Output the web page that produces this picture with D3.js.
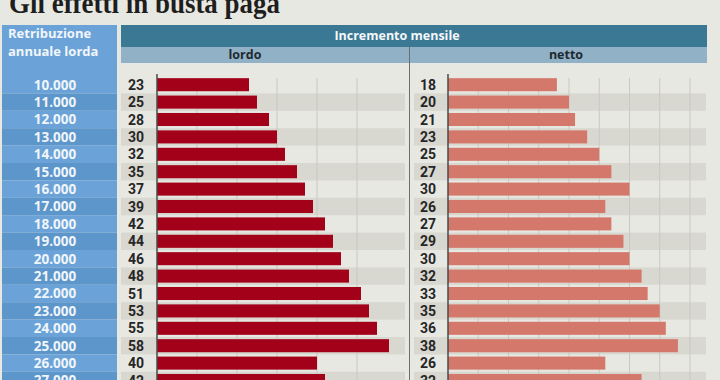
<!DOCTYPE html>
<html>
<head>
<meta charset="utf-8">
<script src="https://cdn.jsdelivr.net/npm/d3@7"></script>
<style>
  html, body { margin: 0; padding: 0; background: #e8e8e3; }
  svg { display: block; }
</style>
</head>
<body>
<svg id="chart" width="720" height="380"></svg>
<script>
// data
const redditi = ['10.000', '11.000', '12.000', '13.000', '14.000', '15.000', '16.000', '17.000', '18.000',
  '19.000', '20.000', '21.000', '22.000', '23.000', '24.000', '25.000', '26.000', '27.000'];
const lordo = [23, 25, 28, 30, 32, 35, 37, 39, 42, 44, 46, 48, 51, 53, 55, 58, 40, 42];
const netto = [18, 20, 21, 23, 25, 27, 30, 26, 27, 29, 30, 32, 33, 35, 36, 38, 26, 32];
const lordoTicks = [10, 20, 30, 40, 50];
const nettoTicks = [5, 10, 15, 20, 25, 30, 35, 40];

const rows = redditi.map((r, i) => ({ r, i, lordo: lordo[i], netto: netto[i] }));

const svg = d3.select('#chart');
const sans = "'Open Sans', 'Noto Sans', sans-serif";
const nums = "Roboto, 'Liberation Sans', sans-serif";

const y = d3.scaleBand().domain(redditi).range([76, 76 + 18 * 17.4]).paddingInner(0.25).paddingOuter(0.125);
const step = y.step();
const rowTop = d => y(d.r) - step * 0.125;
const xL = d3.scaleLinear().domain([0, 62]).range([157, 405]);
const xN = d3.scaleLinear().domain([0, 40]).range([448, 690]);

// title (clipped at the top like the original)
svg.append('text')
  .attr('x', 9).attr('y', 13)
  .attr('font-family', "'Liberation Serif', 'DejaVu Serif', serif")
  .attr('font-weight', 'bold').attr('font-size', 29)
  .attr('fill', '#1e1e1e')
  .attr('textLength', 271).attr('lengthAdjust', 'spacingAndGlyphs')
  .text('Gli effetti in busta paga');

// left column header + rows
svg.append('rect').attr('x', 2).attr('y', 25).attr('width', 115).attr('height', 51).attr('fill', '#6ba3d8');
svg.selectAll('.lab-bg').data(rows).enter().append('rect')
  .attr('x', 2).attr('y', rowTop).attr('width', 115).attr('height', step)
  .attr('fill', d => d.i % 2 ? '#5d96cb' : '#6ba3d8');
svg.append('text').attr('x', 8).attr('y', 38)
  .attr('font-family', sans).attr('font-weight', 'bold').attr('font-size', 13).attr('fill', '#f2f6fb')
  .text('Retribuzione');
svg.append('text').attr('x', 8).attr('y', 56)
  .attr('font-family', sans).attr('font-weight', 'bold').attr('font-size', 13).attr('fill', '#f2f6fb')
  .text('annuale lorda');
svg.selectAll('.lab').data(rows).enter().append('text')
  .attr('x', 55).attr('y', d => y(d.r) + y.bandwidth() / 2)
  .attr('dy', '0.36em').attr('text-anchor', 'middle')
  .attr('font-family', sans).attr('font-weight', 'bold').attr('font-size', 13.5).attr('fill', '#f0f5fa')
  .text(d => d.r);

// top headers
svg.append('rect').attr('x', 121).attr('y', 25).attr('width', 586).attr('height', 22).attr('fill', '#3b7893');
svg.append('text').attr('x', 397).attr('y', 40).attr('text-anchor', 'middle')
  .attr('font-family', sans).attr('font-weight', 'bold').attr('font-size', 12.5).attr('fill', '#f4f7f9')
  .text('Incremento mensile');
svg.append('rect').attr('x', 121).attr('y', 47).attr('width', 586).attr('height', 16).attr('fill', '#90b1c6');
svg.append('text').attr('x', 245).attr('y', 59).attr('text-anchor', 'middle')
  .attr('font-family', sans).attr('font-weight', 'bold').attr('font-size', 12.5).attr('fill', '#1f2a30')
  .text('lordo');
svg.append('text').attr('x', 566).attr('y', 59).attr('text-anchor', 'middle')
  .attr('font-family', sans).attr('font-weight', 'bold').attr('font-size', 12.5).attr('fill', '#1f2a30')
  .text('netto');

// one panel: bands, grid, bars, values, axis line
function panel(key, x, x0, x1, labelX, ticks, color) {
  const g = svg.append('g');
  g.selectAll('.band').data(rows.filter(d => d.i % 2)).enter().append('rect')
    .attr('x', x0).attr('y', rowTop).attr('width', x1 - x0).attr('height', step)
    .attr('fill', '#d8d7d0');
  g.selectAll('.grid').data(ticks).enter().append('line')
    .attr('x1', x).attr('x2', x).attr('y1', 78).attr('y2', 380)
    .attr('stroke', '#c9c8c1').attr('stroke-width', 1);
  g.selectAll('.bar').data(rows).enter().append('rect')
    .attr('x', x(0)).attr('y', d => y(d.r))
    .attr('width', d => x(d[key]) - x(0)).attr('height', y.bandwidth())
    .attr('fill', color);
  g.selectAll('.val').data(rows).enter().append('text')
    .attr('x', labelX).attr('y', d => y(d.r) + y.bandwidth() / 2)
    .attr('dy', '0.36em').attr('text-anchor', 'middle')
    .attr('font-family', nums).attr('font-weight', 'bold').attr('font-size', 14).attr('fill', '#262626')
    .text(d => d[key]);
  g.append('line').attr('x1', x(0)).attr('x2', x(0)).attr('y1', 74).attr('y2', 380)
    .attr('stroke', '#4a4a4a').attr('stroke-width', 1.5);
}

panel('lordo', xL, 121, 405, 136, lordoTicks, '#a3001a');
panel('netto', xN, 414, 706, 428, nettoTicks, '#d4786b');

// separator between lordo and netto
svg.append('line').attr('x1', 409.5).attr('x2', 409.5).attr('y1', 47).attr('y2', 380)
  .attr('stroke', '#6e6e6e').attr('stroke-width', 1);
</script>
</body>
</html>
